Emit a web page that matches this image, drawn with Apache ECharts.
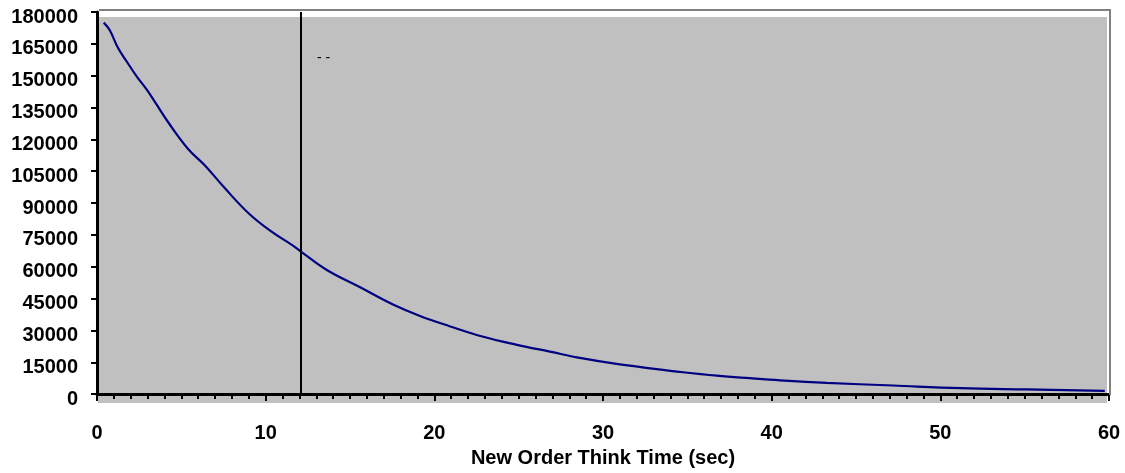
<!DOCTYPE html>
<html>
<head>
<meta charset="utf-8">
<script src="https://cdn.jsdelivr.net/npm/echarts@6/dist/echarts.min.js"></script>
<style>
  html, body { margin: 0; padding: 0; background: #ffffff; }
  #chart { width: 1125px; height: 473px; }
</style>
</head>
<body>
<div id="chart"></div>
<script>
// Think time (sec) sampled along the curve
const thinkTime = [0.4, 0.75, 1.25, 1.75, 2.35, 2.95, 3.5, 4.2, 5.4, 6.4, 7.6, 9.0, 10.35, 11.55, 12.13, 13.6, 15.6, 17.55, 19.15, 20.9, 22.9, 24.9, 26.85, 28.8, 30.8, 32.8, 34.75, 36.75, 38.7, 40.5, 43.25, 47.2, 51.2, 55.1, 59.75];
// Count values
const counts = [175000, 171500, 163000, 156800, 149700, 143400, 136800, 128300, 115500, 107700, 96800, 85100, 76500, 70300, 66900, 58600, 50300, 42200, 36800, 32000, 27000, 23200, 20000, 16800, 14200, 12150, 10300, 8700, 7500, 6500, 5300, 4050, 2800, 2200, 1550];
// Vertical marker position (sec)
const markerX = 12.1;
const markerText = '- -';
const xTitle = 'New Order Think Time (sec)';

const FONT = '"Liberation Sans", Arial, sans-serif';
const chart = echarts.init(document.getElementById('chart'));
chart.setOption({
  animation: false,
  backgroundColor: '#ffffff',
  grid: { left: 97, right: 16, top: 12, bottom: 76, show: false },
  graphic: [
    { type: 'rect', z: -10, shape: { x: 98, y: 17, width: 1009, height: 386 }, style: { fill: '#c0c0c0' } },
    { type: 'polyline', z: 100, shape: { points: [[99, 10], [1110, 10], [1110, 395]] }, style: { stroke: '#808080', lineWidth: 2, fill: null } },
    { type: 'text', z: 10, x: 317, y: 51, style: { text: markerText, font: '14px ' + FONT, fill: '#000000' } }
  ],
  xAxis: {
    type: 'value', min: 0, max: 60, interval: 10,
    name: xTitle, nameLocation: 'middle', nameGap: 50,
    nameTextStyle: { fontFamily: FONT, fontWeight: 'bold', fontSize: 20, color: '#000' },
    axisLine: { show: true, onZero: false, lineStyle: { color: '#000', width: 3 } },
    axisTick: { show: true, length: 7, lineStyle: { color: '#000', width: 2 } },
    minorTick: { show: true, splitNumber: 10, length: 5, lineStyle: { color: '#000', width: 2 } },
    axisLabel: { margin: 29, fontFamily: FONT, fontWeight: 'bold', fontSize: 20, color: '#000' },
    splitLine: { show: false }
  },
  yAxis: {
    type: 'value', min: 0, max: 180000, interval: 15000,
    axisLine: { show: true, lineStyle: { color: '#000', width: 3 } },
    axisTick: { show: true, length: 6, lineStyle: { color: '#000', width: 2 } },
    axisLabel: {
      margin: 19, verticalAlign: 'top', lineHeight: 10,
      formatter: v => String(v),
      fontFamily: FONT, fontWeight: 'bold', fontSize: 20, color: '#000'
    },
    splitLine: { show: false }
  },
  series: [{
    type: 'line',
    data: thinkTime.map((t, i) => [t, counts[i]]),
    showSymbol: false,
    smooth: 0.4,
    lineStyle: { color: '#000080', width: 2.2 },
    itemStyle: { color: '#000080' },
    markLine: {
      silent: true, symbol: 'none', label: { show: false },
      lineStyle: { color: '#000', width: 2, type: 'solid' },
      data: [{ xAxis: markerX }]
    }
  }]
});
</script>
</body>
</html>
